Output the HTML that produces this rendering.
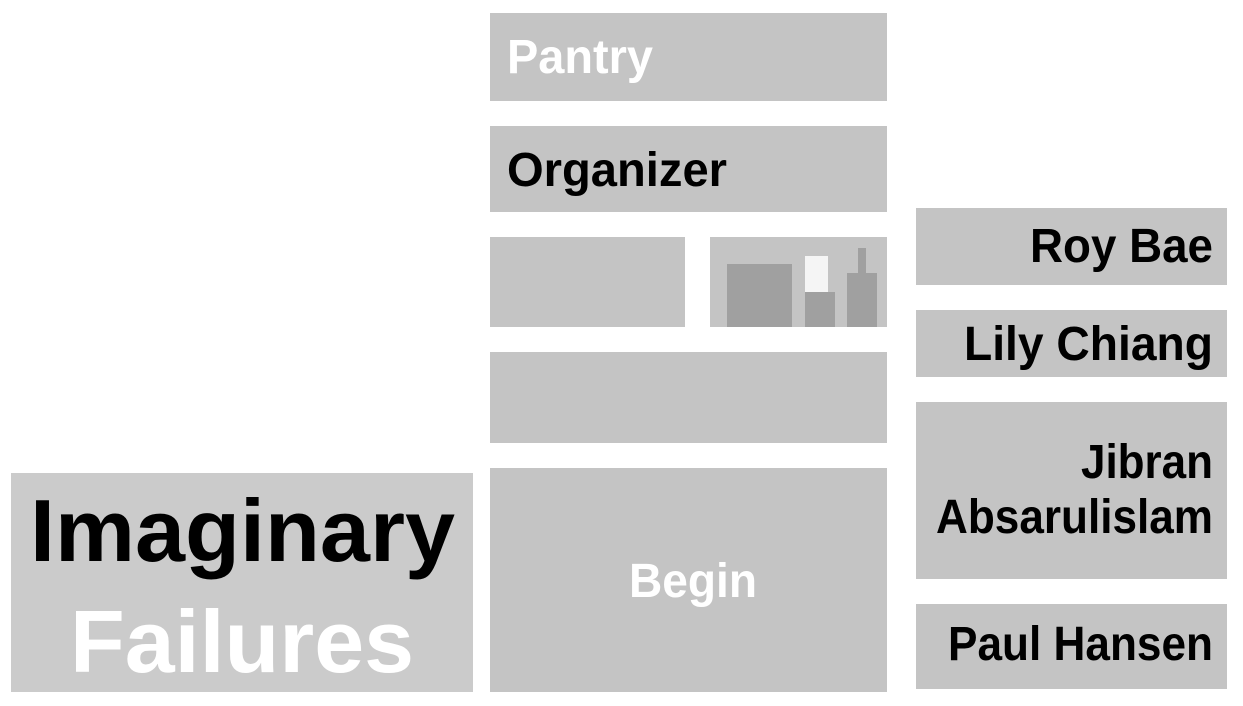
<!DOCTYPE html>
<html><head><meta charset="utf-8"><style>html,body{margin:0;padding:0;background:#fff;width:1243px;height:706px;overflow:hidden}</style></head>
<body>
<svg width="1243" height="706" xmlns="http://www.w3.org/2000/svg" font-family="Liberation Sans, sans-serif" font-weight="bold">
<g fill="#c4c4c4">
<rect x="490" y="13" width="397" height="88"/>
<rect x="490" y="126" width="397" height="86"/>
<rect x="490" y="237" width="195" height="90"/>
<rect x="710" y="237" width="177" height="90"/>
<rect x="490" y="352" width="397" height="91"/>
<rect x="490" y="468" width="397" height="224"/>
<rect x="916" y="208" width="311" height="77"/>
<rect x="916" y="310" width="311" height="67"/>
<rect x="916" y="402" width="311" height="177"/>
<rect x="916" y="604" width="311" height="85"/>
</g>
<rect x="11" y="473" width="462" height="219" fill="#cbcbcb"/>
<g fill="#a0a0a0">
<rect x="727" y="264" width="65" height="63"/>
<rect x="805" y="292" width="30" height="35"/>
<rect x="847" y="273" width="30" height="54"/>
<rect x="858" y="248" width="8" height="25"/>
</g>
<rect x="805" y="256" width="23" height="36" fill="#f5f5f5"/>
<text x="507" y="73" font-size="48" fill="#fff" textLength="146" lengthAdjust="spacingAndGlyphs">Pantry</text>
<text x="507" y="186" font-size="48" fill="#000" textLength="220" lengthAdjust="spacingAndGlyphs">Organizer</text>
<text x="629" y="597" font-size="48" fill="#fff" textLength="128" lengthAdjust="spacingAndGlyphs">Begin</text>
<text x="1030" y="262" font-size="48" fill="#000" textLength="183" lengthAdjust="spacingAndGlyphs">Roy Bae</text>
<text x="964" y="360" font-size="48" fill="#000" textLength="249" lengthAdjust="spacingAndGlyphs">Lily Chiang</text>
<text x="1081" y="478" font-size="48" fill="#000" textLength="132" lengthAdjust="spacingAndGlyphs">Jibran</text>
<text x="936" y="533" font-size="48" fill="#000" textLength="277" lengthAdjust="spacingAndGlyphs">Absarulislam</text>
<text x="948" y="660" font-size="48" fill="#000" textLength="265" lengthAdjust="spacingAndGlyphs">Paul Hansen</text>
<text x="30" y="561" font-size="88" fill="#000" textLength="425" lengthAdjust="spacingAndGlyphs">Imaginary</text>
<text x="70" y="672" font-size="88" fill="#fff" textLength="344" lengthAdjust="spacingAndGlyphs">Failures</text>
</svg>
</body></html>
